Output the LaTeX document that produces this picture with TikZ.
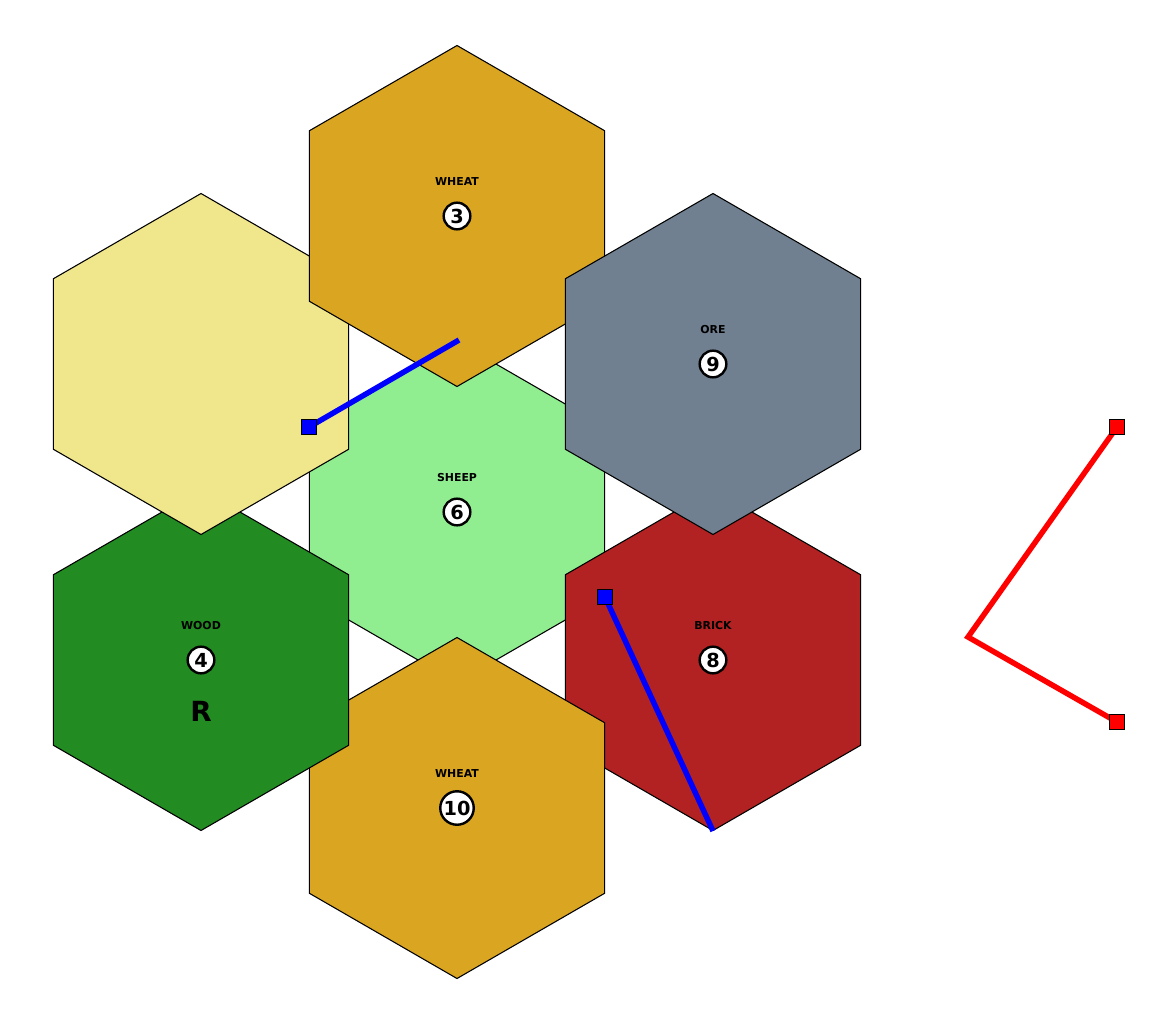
\documentclass[tikz,border=0pt]{standalone}
\usepackage{fontspec}
\setmainfont{DejaVu Sans}
\definecolor{cwheat}{HTML}{DAA520}
\definecolor{cdesert}{HTML}{F0E68C}
\definecolor{core}{HTML}{708090}
\definecolor{csheep}{HTML}{90EE90}
\definecolor{cwood}{HTML}{228B22}
\definecolor{cbrick}{HTML}{B22222}
\definecolor{croadblue}{HTML}{0000FF}
\definecolor{croadred}{HTML}{FF0000}
\newcommand\hexcell[3]{%
  \filldraw[fill=#3,hexline] (#1,#2) +(90:170.5) -- +(30:170.5) -- +(-30:170.5) -- +(-90:170.5) -- +(-150:170.5) -- +(150:170.5) -- cycle;}
\tikzset{
  hexline/.style={draw=black,line width=0.8pt,line join=miter},
  reslabel/.style={font=\bfseries\fontsize{8.2}{9}\selectfont,inner sep=0pt},
  numtoken/.style={circle,draw=black,fill=white,line width=1.8pt,inner sep=0.8pt,minimum size=20pt,font=\bfseries\fontsize{14.5}{16}\selectfont},
  robber/.style={font=\bfseries\fontsize{20.8}{24}\selectfont,inner sep=0pt},
  road/.style={line width=4.1pt,line cap=butt,line join=miter},
  settle/.style={rectangle,draw=black,line width=0.8pt,minimum size=11.25pt,inner sep=0pt}
}
\begin{document}
\begin{tikzpicture}[x=0.75pt,y=-0.75pt]
\useasboundingbox (0,0) rectangle (1170,1025);
% hexes in drawing order
\hexcell{457}{512}{csheep}
\hexcell{713}{660}{cbrick}
\hexcell{457}{808}{cwheat}
\hexcell{201}{660}{cwood}
\hexcell{201}{364}{cdesert}
\hexcell{457}{216}{cwheat}
\hexcell{713}{364}{core}
% labels
\node[reslabel] (lw3) at (457,182) {WHEAT};
\node[numtoken] (n3) at (457,216) {3};
\node[reslabel] (lore) at (713,330) {ORE};
\node[numtoken] (n9) at (713,364) {9};
\node[reslabel] (lsheep) at (457,478) {SHEEP};
\node[numtoken] (n6) at (457,512) {6};
\node[reslabel] (lwood) at (201,626) {WOOD};
\node[numtoken] (n4) at (201,660) {4};
\node[robber] (rob) at (201,711) {R};
\node[reslabel] (lbrick) at (713,626) {BRICK};
\node[numtoken] (n8) at (713,660) {8};
\node[reslabel] (lw10) at (457,774) {WHEAT};
\node[numtoken] (n10) at (457,808) {10};
% roads
\coordinate (b1e) at (459,340);
\coordinate (b2e) at (713,831);
\coordinate (rc) at (968,637);
\node[settle,fill=croadblue] (b1s) at (309,427) {};
\node[settle,fill=croadblue] (b2s) at (605,597) {};
\node[settle,fill=croadred] (r1s) at (1117,427) {};
\node[settle,fill=croadred] (r2s) at (1117,722) {};
\draw[road,croadblue] (b1s.center) -- (b1e);
\draw[road,croadblue] (b2s.center) -- (b2e);
\draw[road,croadred] (r1s.center) -- (rc) -- (r2s.center);
\node[settle,fill=croadblue] at (b1s) {};
\node[settle,fill=croadblue] at (b2s) {};
\node[settle,fill=croadred] at (r1s) {};
\node[settle,fill=croadred] at (r2s) {};
\end{tikzpicture}
\end{document}
